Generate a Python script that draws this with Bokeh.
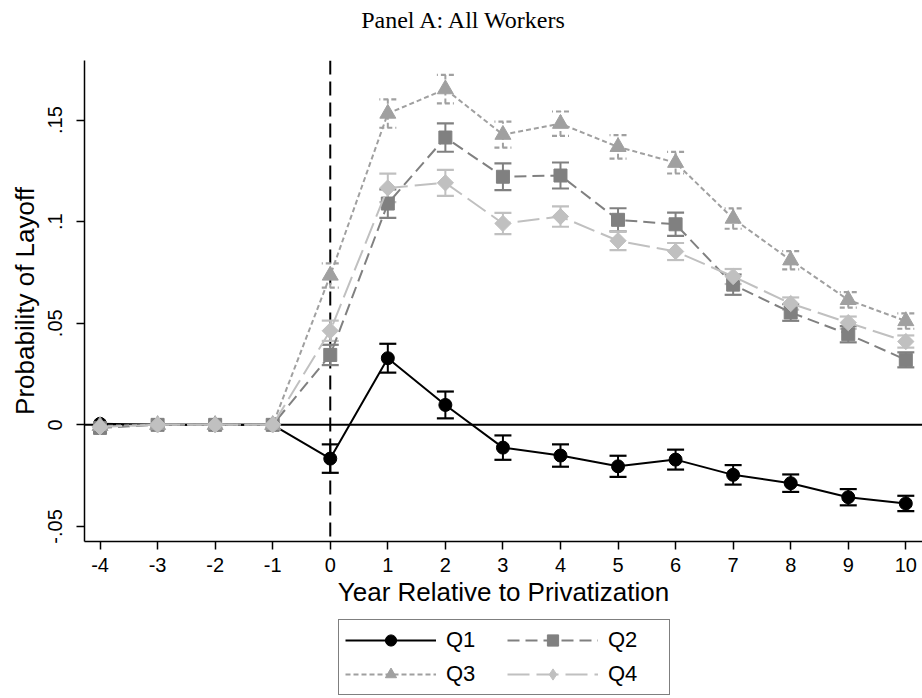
import numpy as np
from bokeh.plotting import figure
from bokeh.layouts import column
from bokeh.models import (ColumnDataSource, Range1d, FixedTicker, Span, Whisker,
                          TeeHead, Legend, LegendItem, Label)
from bokeh.embed import file_html
from bokeh.resources import INLINE

# ---------------- data ----------------
years = [-4, -3, -2, -1, 0, 1, 2, 3, 4, 5, 6, 7, 8, 9, 10]
x_tick_labels = ["-4", "-3", "-2", "-1", "0", "1", "2", "3", "4", "5", "6", "7", "8", "9", "10"]
y_tick_vals = [-0.05, 0, 0.05, 0.1, 0.15]
y_tick_labels = ["-.05", "0", ".05", ".1", ".15"]

q1 = [0.0005, 0.0, 0.0, 0.0, -0.0166, 0.0328, 0.0098, -0.0112, -0.0151, -0.0204,
      -0.0171, -0.0246, -0.0287, -0.0356, -0.0387]
q1_ci = [0, 0, 0, 0, 0.0070, 0.0071, 0.0066, 0.0060, 0.0055, 0.0052,
         0.0049, 0.0048, 0.0043, 0.0040, 0.0038]
q2 = [-0.0015, 0.0, 0.0, 0.0, 0.0344, 0.1089, 0.1414, 0.1221, 0.1227, 0.1009,
      0.0987, 0.0690, 0.0553, 0.0446, 0.0320]
q2_ci = [0, 0, 0, 0, 0.0050, 0.0070, 0.0070, 0.0066, 0.0064, 0.0057,
         0.0057, 0.0050, 0.0041, 0.0040, 0.0037]
q3 = [-0.0005, 0.0, 0.0, 0.0, 0.0735, 0.1532, 0.1652, 0.1428, 0.1482, 0.1368,
      0.1290, 0.1015, 0.0810, 0.0615, 0.0511]
q3_ci = [0, 0, 0, 0, 0.0060, 0.0070, 0.0070, 0.0064, 0.0060, 0.0058,
         0.0053, 0.0050, 0.0045, 0.0038, 0.0038]
q4 = [-0.0010, 0.0, 0.0, 0.0, 0.0463, 0.1166, 0.1191, 0.0991, 0.1025, 0.0906,
      0.0853, 0.0730, 0.0597, 0.0503, 0.0410]
q4_ci = [0, 0, 0, 0, 0.0050, 0.0070, 0.0064, 0.0052, 0.0050, 0.0046,
         0.0042, 0.0037, 0.0030, 0.0030, 0.0030]

series_names = ["Q1", "Q2", "Q3", "Q4"]
series_vals = [q1, q2, q3, q4]
series_ci = [q1_ci, q2_ci, q3_ci, q4_ci]
title_text = "Panel A: All Workers"

# ---------------- styles ----------------
styles = [
    dict(color="#000000", dash="solid", marker="circle", size=13, angle=0.0, wdash="solid", lmarker="circle"),
    dict(color="#808080", dash="12 6", marker="square", size=13, angle=0.0, wdash="solid", lmarker="square"),
    dict(color="#a0a0a0", dash="5 3", marker="triangle", size=16, angle=0.0, wdash="5 3", lmarker="triangle"),
    dict(color="#c0c0c0", dash="22 7", marker="square", size=11.5, angle=np.pi / 4, wdash="solid", lmarker="diamond"),
]

SANS = "Liberation Sans"
W = 922
LEFT = 84  # frame left border shared by the stacked figures

# ---------------- title strip ----------------
pt = figure(width=W, height=38, x_range=Range1d(0, 1), y_range=Range1d(0, 1),
            x_axis_type=None, y_axis_type=None, output_backend="svg",
            toolbar_location=None, min_border=0, min_border_left=LEFT)
pt.outline_line_color = None
pt.xgrid.visible = False
pt.ygrid.visible = False
pt.add_layout(Label(x=464 - LEFT, y=19, x_units="screen", y_units="screen", text=title_text,
                    text_font="Liberation Serif", text_font_size="24px",
                    text_align="center", text_baseline="middle", text_color="black"))

# ---------------- main plot ----------------
p = figure(frame_width=838, frame_height=481,
           x_range=Range1d(-4.27, 10.29), y_range=Range1d(-0.0574, 0.1793),
           output_backend="svg", toolbar_location=None,
           min_border_left=LEFT, min_border_right=0, min_border_top=22, min_border_bottom=74)

p.xgrid.visible = False
p.ygrid.visible = False
p.outline_line_color = None
p.background_fill_color = "white"
p.border_fill_color = "white"

p.add_layout(Span(location=0, dimension="width", line_color="black", line_width=2, level="underlay"))
p.add_layout(Span(location=0, dimension="height", line_color="black", line_width=2,
                  line_dash="14 7", level="underlay"))

for name, vals, ci, st in zip(series_names, series_vals, series_ci, styles):
    xs = [x for x, c in zip(years, ci) if c > 0]
    up = [v + c for v, c in zip(vals, ci) if c > 0]
    lo = [v - c for v, c in zip(vals, ci) if c > 0]
    wsrc = ColumnDataSource(dict(x=xs, upper=up, lower=lo))
    w = Whisker(source=wsrc, base="x", upper="upper", lower="lower",
                line_color=st["color"], line_width=2, line_dash=st["wdash"],
                upper_head=TeeHead(size=17, line_color=st["color"], line_width=2.2, line_dash=st["wdash"]),
                lower_head=TeeHead(size=17, line_color=st["color"], line_width=2.2, line_dash=st["wdash"]))
    p.add_layout(w)

for name, vals, ci, st in zip(series_names, series_vals, series_ci, styles):
    src = ColumnDataSource(dict(x=years, y=vals))
    p.line("x", "y", source=src, line_color=st["color"], line_width=2, line_dash=st["dash"])
    p.scatter("x", "y", source=src, marker=st["marker"], size=st["size"], angle=st["angle"],
              fill_color=st["color"], line_color=st["color"], line_width=1)

p.xaxis.ticker = FixedTicker(ticks=years)
p.xaxis.major_label_overrides = {v: s for v, s in zip(years, x_tick_labels)}
p.yaxis.ticker = FixedTicker(ticks=y_tick_vals)
p.yaxis.major_label_overrides = {v: s for v, s in zip(y_tick_vals, y_tick_labels)}
p.yaxis.major_label_orientation = "vertical"

p.xaxis.axis_label = "Year Relative to Privatization"
p.yaxis.axis_label = "Probability of Layoff"
for ax in (p.xaxis[0], p.yaxis[0]):
    ax.axis_label_text_font = SANS
    ax.axis_label_text_font_size = "26px"
    ax.axis_label_text_font_style = "normal"
    ax.axis_label_text_color = "black"
    ax.major_label_text_font = SANS
    ax.major_label_text_font_size = "20px"
    ax.major_label_text_color = "black"
    ax.axis_line_color = "black"
    ax.axis_line_width = 1.5
    ax.major_tick_line_color = "black"
    ax.major_tick_line_width = 1.5
    ax.major_tick_out = 8
    ax.major_tick_in = 0
    ax.minor_tick_line_color = None
p.xaxis.major_label_standoff = 8
p.xaxis.axis_label_standoff = 2
p.yaxis.major_label_standoff = 14
p.yaxis.axis_label_standoff = 6

# ---------------- legend strip ----------------
# the series are drawn again here only to feed the legend; the y range keeps them out of view
pl = figure(width=W, height=83, x_range=Range1d(-4.27, 10.29), y_range=Range1d(1, 2),
            x_axis_type=None, y_axis_type=None, output_backend="svg",
            toolbar_location=None, min_border=0, min_border_left=LEFT)
pl.outline_line_color = None
pl.xgrid.visible = False
pl.ygrid.visible = False

items = []
for name, vals, st in zip(series_names, series_vals, styles):
    lsrc = ColumnDataSource(dict(x=years, y=vals))
    lr = pl.line("x", "y", source=lsrc, line_color=st["color"], line_width=2, line_dash=st["dash"])
    sr = pl.scatter("x", "y", source=lsrc, marker=st["lmarker"], size=st["size"],
                    fill_color=st["color"], line_color=st["color"], line_width=1)
    items.append(LegendItem(label=name, renderers=[lr, sr]))

legend = Legend(items=items, orientation="horizontal", ncols=2,
                glyph_width=91, glyph_height=28, label_height=28, label_width=55,
                label_standoff=10, spacing=6, padding=6, margin=0,
                label_text_font=SANS, label_text_font_size="22px",
                label_text_color="black",
                border_line_color="black", border_line_width=1.2,
                background_fill_alpha=1.0, location=(338 - LEFT, 3))
pl.add_layout(legend)

layout = column(pt, p, pl, spacing=0)
open("out.html", "w").write(file_html(layout, INLINE))
